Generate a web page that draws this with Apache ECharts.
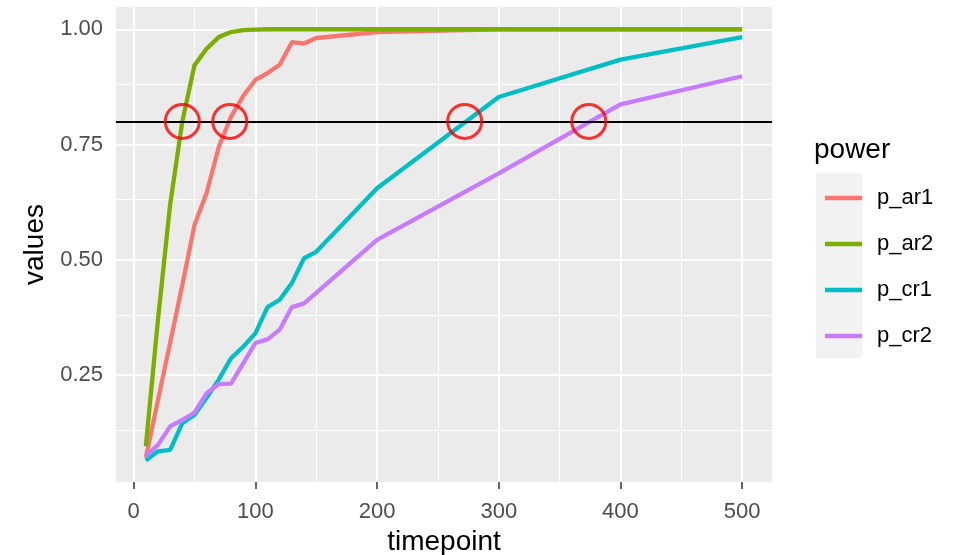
<!DOCTYPE html>
<html>
<head>
<meta charset="utf-8">
<script src="https://cdn.jsdelivr.net/npm/echarts/dist/echarts.min.js"></script>
<style>
html,body{margin:0;padding:0;background:#fff;}
#chart{width:961px;height:555px;}
</style>
</head>
<body>
<div id="chart"></div>
<script>
// ---- data ----
var timepoints = [10,20,30,40,50,60,70,80,90,100,110,120,130,140,150,200,300,400,500];
var p_ar1 = [0.070,0.195,0.320,0.445,0.575,0.645,0.745,0.810,0.855,0.890,0.905,0.923,0.972,0.969,0.981,0.994,1.000,1.000,1.000];
var p_ar2 = [0.095,0.370,0.620,0.800,0.922,0.958,0.983,0.994,0.998,0.999,1.000,1.000,1.000,1.000,1.000,1.000,1.000,1.000,1.000];
var p_cr1 = [0.064,0.084,0.087,0.145,0.163,0.200,0.240,0.286,0.311,0.340,0.397,0.413,0.449,0.503,0.517,0.655,0.853,0.934,0.983];
var p_cr2 = [0.074,0.098,0.138,0.152,0.168,0.210,0.230,0.231,0.275,0.319,0.327,0.348,0.397,0.405,0.428,0.543,0.687,0.837,0.898];
var seriesNames = ['p_ar1','p_ar2','p_cr1','p_cr2'];
var threshold = 0.8;
var circleX = [40, 79, 272, 374];
var xTicks = [0,100,200,300,400,500];
var xMinor = [50,150,250,350,450];
var yTicks = [0.25,0.50,0.75,1.00];
var yMinor = [0.125,0.375,0.625,0.875];

// ---- build ----
var colors = ['#F8766D','#7CAE00','#00BFC4','#C77CFF'];
var seriesValues = [p_ar1,p_ar2,p_cr1,p_cr2];
function pairs(vals){ return timepoints.map(function(t,i){return [t, vals[i]];}); }
var FONT = 'Liberation Sans, Arial, sans-serif';

var gridLines = [];
xTicks.forEach(function(v){ gridLines.push({xAxis:v, lineStyle:{color:'#FFFFFF',width:2,type:'solid'}}); });
xMinor.forEach(function(v){ gridLines.push({xAxis:v, lineStyle:{color:'#FFFFFF',width:1,type:'solid'}}); });
yTicks.forEach(function(v){ gridLines.push({yAxis:v, lineStyle:{color:'#FFFFFF',width:2,type:'solid'}}); });
yMinor.forEach(function(v){ gridLines.push({yAxis:v, lineStyle:{color:'#FFFFFF',width:1,type:'solid'}}); });

var series = [{
  type:'line', name:'_grid', data:[], z:1, silent:true,
  markLine:{z:1, silent:true, symbol:['none','none'], label:{show:false}, animation:false, data:gridLines}
}];
seriesNames.forEach(function(n,i){
  series.push({
    type:'line', name:n, data:pairs(seriesValues[i]), showSymbol:false, symbol:'none',
    z:3, lineStyle:{color:colors[i], width:4.3}, itemStyle:{color:colors[i]}, animation:false
  });
});
series.push({
  type:'line', name:'_hline', data:[], z:4, silent:true,
  markLine:{z:4, silent:true, symbol:['none','none'], label:{show:false}, animation:false,
    data:[{yAxis:threshold, lineStyle:{color:'#000000', width:1.8, type:'solid'}}]}
});
series.push({
  type:'scatter', name:'_circles', z:5, silent:true, animation:false,
  data: circleX.map(function(x){return [x, threshold];}),
  symbol:'circle', symbolSize:34,
  itemStyle:{color:'rgba(0,0,0,0)', borderColor:'#FF0000', borderWidth:3}
});

var chart = echarts.init(document.getElementById('chart'), null, {renderer:'canvas'});
chart.setOption({
  animation:false,
  backgroundColor:'#FFFFFF',
  grid:{left:116, right:189, top:7, bottom:73, show:true, backgroundColor:'#EBEBEB', borderWidth:0,
    containLabel:false, outerBoundsMode:'none'},
  title:{text:'power', left:814, top:136, padding:0,
    textStyle:{fontSize:28, fontWeight:'normal', color:'#000', fontFamily:FONT}},
  legend:{data:seriesNames, orient:'vertical', left:820, top:182, itemWidth:37, itemHeight:22, itemGap:24,
    selectedMode:false, icon:'path://M0,0L37,0L37,4.3L0,4.3Z', symbolKeepAspect:true,
    textStyle:{fontSize:22, color:'#000', fontFamily:FONT, padding:[0,0,0,10]}},
  graphic:[{type:'rect', left:816, top:173, z:-1, shape:{width:46, height:185}, style:{fill:'#F2F2F2'}}],
  xAxis:{type:'value', min:-14.5, max:524.5, name:'timepoint', nameLocation:'middle', nameGap:46,
    nameTextStyle:{fontSize:28, color:'#000', fontFamily:FONT},
    axisLine:{show:false}, splitLine:{show:false},
    axisTick:{show:true, length:7, lineStyle:{color:'#333333', width:1.5}, customValues:xTicks},
    axisLabel:{fontSize:22, color:'#4D4D4D', fontFamily:FONT, margin:19, customValues:xTicks}},
  yAxis:{type:'value', min:0.0174, max:1.0483, name:'values', nameLocation:'middle', nameGap:67,
    nameTextStyle:{fontSize:28, color:'#000', fontFamily:FONT},
    axisLine:{show:false}, splitLine:{show:false},
    axisTick:{show:true, length:7, lineStyle:{color:'#333333', width:1.5}, customValues:yTicks},
    axisLabel:{fontSize:22, color:'#4D4D4D', fontFamily:FONT, margin:13, customValues:yTicks,
      formatter:function(v){return v.toFixed(2);}}},
  series:series
});
</script>
</body>
</html>
